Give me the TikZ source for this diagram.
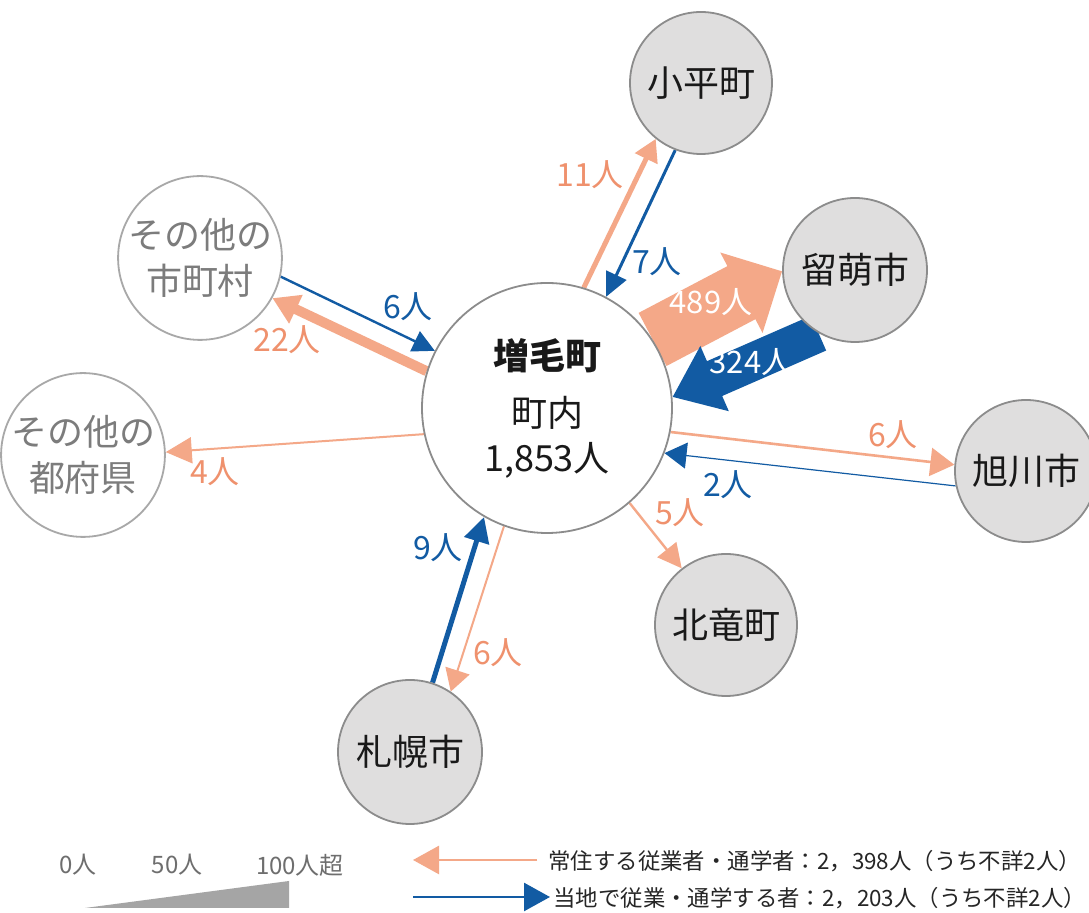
\documentclass[tikz,border=0pt]{standalone}
\usepackage{fontspec}
\usepackage{graphicx}
\setmainfont{Noto Sans CJK JP}
\usetikzlibrary{arrows.meta,backgrounds}
\definecolor{sal}{HTML}{F4A888}
\definecolor{saltx}{HTML}{EF916D}
\definecolor{blu}{HTML}{125BA3}
\definecolor{cfill}{HTML}{DFDEDE}
\definecolor{cline}{HTML}{8C8C8C}
\definecolor{oline}{HTML}{A8A8A8}
\definecolor{otext}{HTML}{7C7C7C}
\definecolor{lgtext}{HTML}{6E6E6E}
\definecolor{wedge}{HTML}{A5A5A5}
\begin{document}
\begin{tikzpicture}[x=0.5pt,y=-0.5pt,
  cir/.style={circle,draw=cline,line width=0.9pt,fill=cfill,minimum size=#1,inner sep=0pt,
    font=\fontsize{18pt}{23pt}\selectfont,text=black!90,align=center},
  ocir/.style={cir=#1,fill=white,draw=oline,text=otext},
  sa/.style={color=sal,line width=#1},
  bl/.style={color=blu,line width=#1},
  hd/.style 2 args={-{Triangle[length=#1,width=#2]}},
  slab/.style={text=saltx,font=\fontsize{16pt}{18pt}\selectfont,inner sep=0pt},
  blab/.style={text=blu,font=\fontsize{16pt}{18pt}\selectfont,inner sep=0pt},
  wlab/.style={text=white,font=\fontsize{15.5pt}{18pt}\selectfont,inner sep=0pt},
  lg/.style={font=\fontsize{12pt}{14pt}\selectfont,text=lgtext,inner sep=0pt},
  lgt/.style={font=\fontsize{11.2pt}{13pt}\selectfont,text=black!85,inner sep=0pt,anchor=west}]
\useasboundingbox (0,0) rectangle (1089,913);

% nodes
\node[cir=125pt,fill=white,font=\fontsize{18pt}{22.5pt}\selectfont] (C) at (547,408)
  {\textbf{増毛町}\\[6pt]町内\\1,853人};
\node[cir=71pt] (K) at (701,83) {小平町};
\node[cir=72pt] (R) at (855,270) {留萌市};
\node[cir=71pt] (A) at (1026,471) {旭川市};
\node[cir=71pt] (H) at (726,625) {北竜町};
\node[cir=72pt] (S) at (410,752) {札幌市};
\node[ocir=72pt] (T) at (200,258) {その他の\\市町村};
\node[ocir=72pt] (P) at (83,455) {その他の\\都府県};

% connectors (behind the circles)
\begin{pgfonlayer}{background}
\fill[white] (0,0) rectangle (1089,913);
\draw[sa=30pt,hd={23pt}{44pt}] (C.33.8) -- (R.181.5);
\draw[bl=19pt,hd={23pt}{34pt}] (R.240) -- (C.5.9);
\draw[sa=2.5pt,hd={11pt}{12pt}] (C.73.3) -- (K.231);
\draw[bl=1.5pt,hd={12pt}{11pt}] (K.249.5) -- (C.62.3);
\draw[sa=5pt,hd={13pt}{15pt}] (C.163.8) -- (T.331.7);
\draw[bl=1.2pt,hd={11pt}{11pt}] (T.347.9) -- (C.153);
\draw[sa=1pt,hd={13pt}{13pt}] (C.192) -- (P.2.3);
\draw[sa=1.3pt,hd={12pt}{14pt}] (C.349) -- (A.175.3);
\draw[bl=0.6pt,hd={11pt}{13pt}] (A.192.7) -- (C.339.4);
\draw[sa=1.2pt,hd={12pt}{12pt}] (C.311.4) -- (H.128.7);
\draw[bl=2.5pt,hd={12.5pt}{12.5pt}] (S.72.3) -- (C.240.6);
\draw[sa=1pt,hd={11pt}{12.5pt}] (C.250.6) -- (S.56.5);
\end{pgfonlayer}

% labels
\node[wlab] (n489) at (711,302) {489人};
\node[wlab] (n324) at (751,362) {324人};
\node[slab] (n11) at (590,175) {11人};
\node[blab] (n7) at (657,262) {7人};
\node[blab] (n6a) at (408,307) {6人};
\node[slab] (n22) at (287,340) {22人};
\node[slab] (n4) at (215,472) {4人};
\node[slab] (n6b) at (893,435) {6人};
\node[blab] (n2) at (728,485) {2人};
\node[slab] (n5) at (680,513) {5人};
\node[blab] (n9) at (438,548) {9人};
\node[slab] (n6c) at (498,653) {6人};

% legend
\node[lg] (l0) at (78,865) {0人};
\node[lg] (l50) at (177,865) {50人};
\node[lg] (l100) at (300,865) {100人超};
\fill[wedge] (85,908) -- (289,881) -- (289,908) -- cycle;
\coordinate (a1) at (537,860);
\coordinate (a2) at (413,860);
\coordinate (b1) at (413,897);
\coordinate (b2) at (550,897);
\draw[sa=1.3pt,hd={13pt}{14pt}] (a1) -- (a2);
\draw[bl=1.3pt,hd={13pt}{14pt}] (b1) -- (b2);
\node[lgt] (t1) at (548,861) {常住する従業者・通学者：2，398人（うち不詳2人）};
\node[lgt] (t2) at (553,898) {当地で従業・通学する者：2，203人（うち不詳2人）};
\end{tikzpicture}
\end{document}
